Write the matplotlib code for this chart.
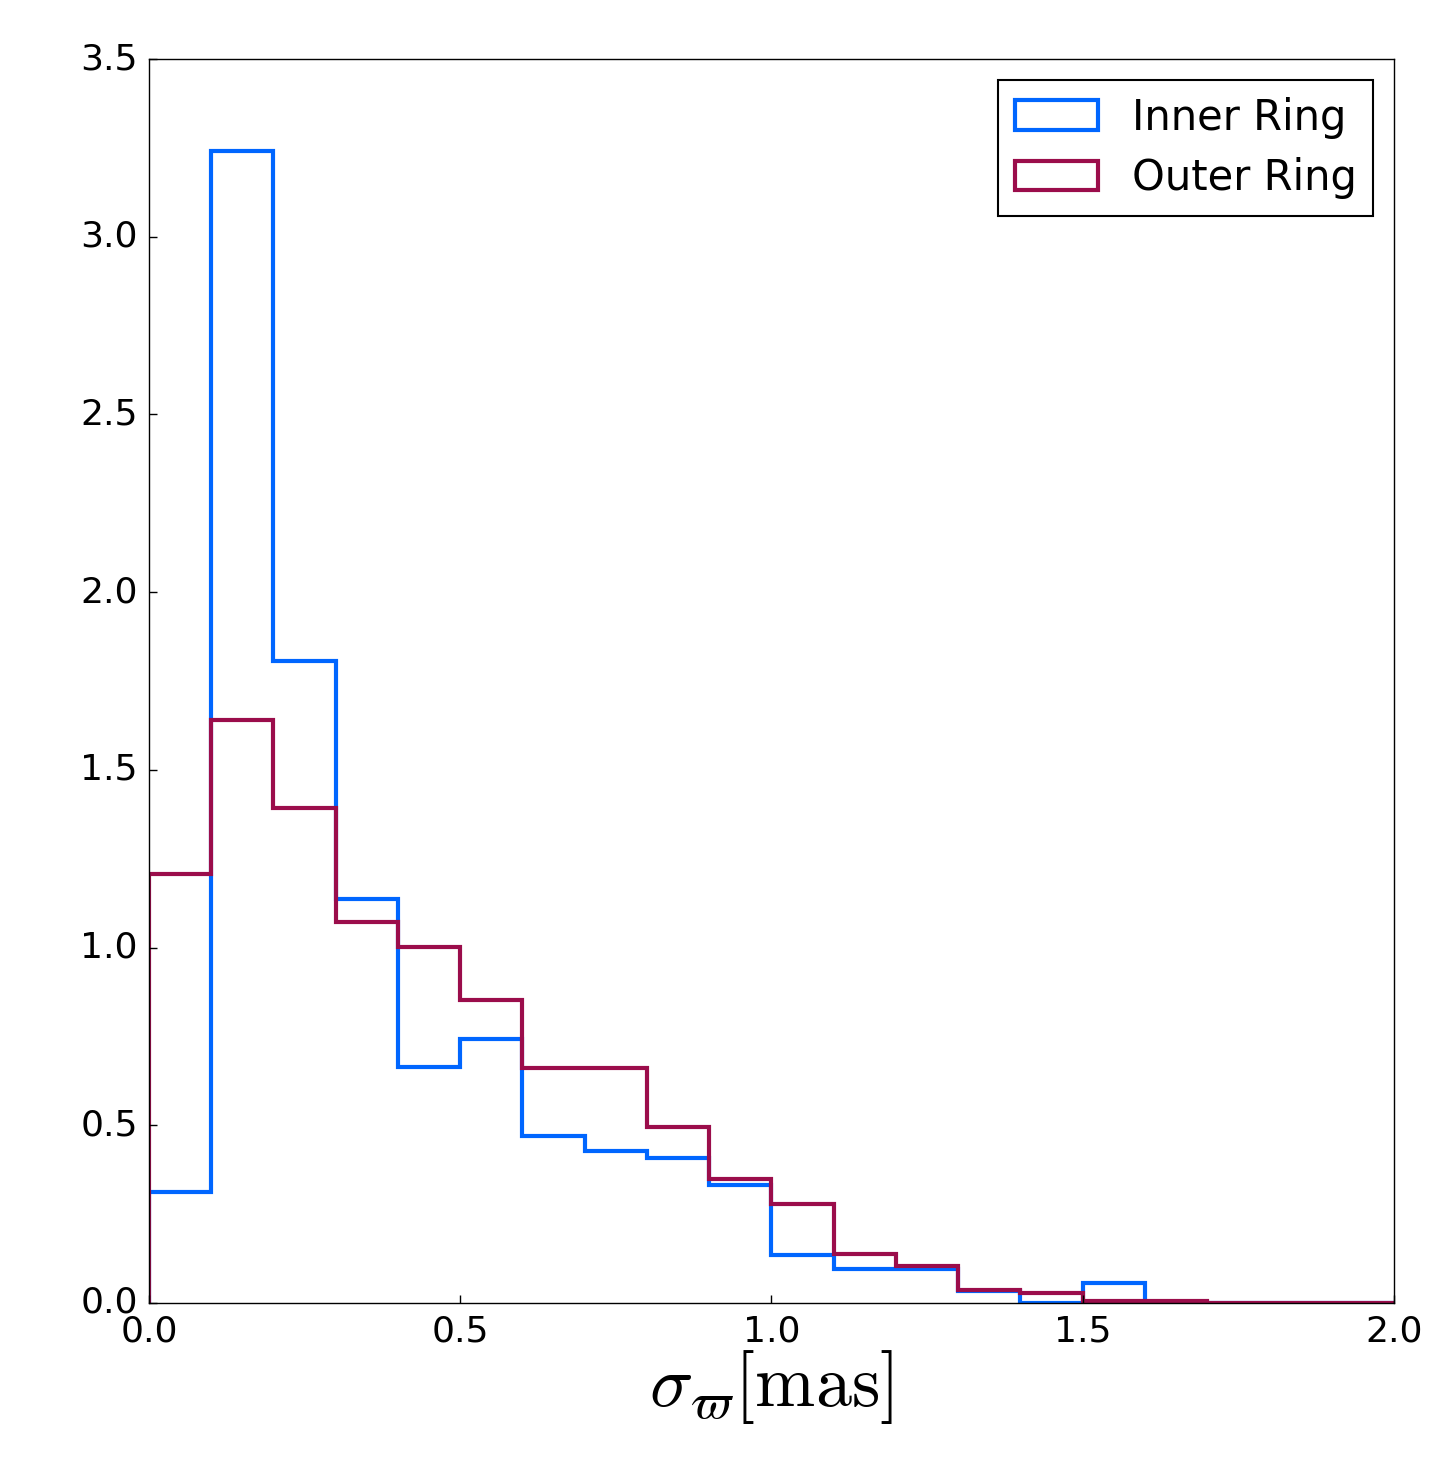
import matplotlib
matplotlib.use('Agg')
import numpy as np
import matplotlib.pyplot as plt

plt.style.use('classic')

# bin edges of the parallax-error histograms (mas)
bin_edges = np.round(np.arange(0, 2.01, 0.1), 2)

# normalised counts
inner_ring = [0.312, 3.241, 1.806, 1.137, 0.664, 0.743, 0.470, 0.428, 0.408, 0.332,
              0.135, 0.096, 0.096, 0.034, 0.0, 0.056, 0.0, 0.0, 0.0, 0.0]
outer_ring = [1.207, 1.640, 1.393, 1.072, 1.002, 0.853, 0.661, 0.661, 0.495, 0.349,
              0.279, 0.138, 0.104, 0.037, 0.028, 0.007, 0.006, 0.0, 0.0, 0.0]

centers = 0.5 * (bin_edges[:-1] + bin_edges[1:])

plt.rcParams['mathtext.fontset'] = 'cm'
fig = plt.figure(figsize=(14.55, 14.57), dpi=100, facecolor='white')
ax = fig.add_axes([0.1024, 0.1057, 0.8556, 0.8538])

ax.hist(centers, bins=bin_edges, weights=inner_ring, histtype='step',
        color='#0066ff', linewidth=3, label='Inner Ring')
ax.hist(centers, bins=bin_edges, weights=outer_ring, histtype='step',
        color='#9b0d4b', linewidth=3, label='Outer Ring')

ax.set_xlim(0, 2.0)
ax.set_ylim(0, 3.5)
ax.tick_params(top=False, right=False, labelsize=26, length=6, width=1, pad=8)
ax.set_xlabel(r'$\sigma_\varpi [\mathrm{mas}]$', fontsize=52, labelpad=0)

leg = ax.legend(loc='upper right', fontsize=30, handlelength=2.0, handleheight=0.7,
                borderpad=0.4, labelspacing=0.45, handletextpad=0.8)
leg.get_frame().set_linewidth(1.5)

plt.savefig('out.png', dpi=100, facecolor='white')
